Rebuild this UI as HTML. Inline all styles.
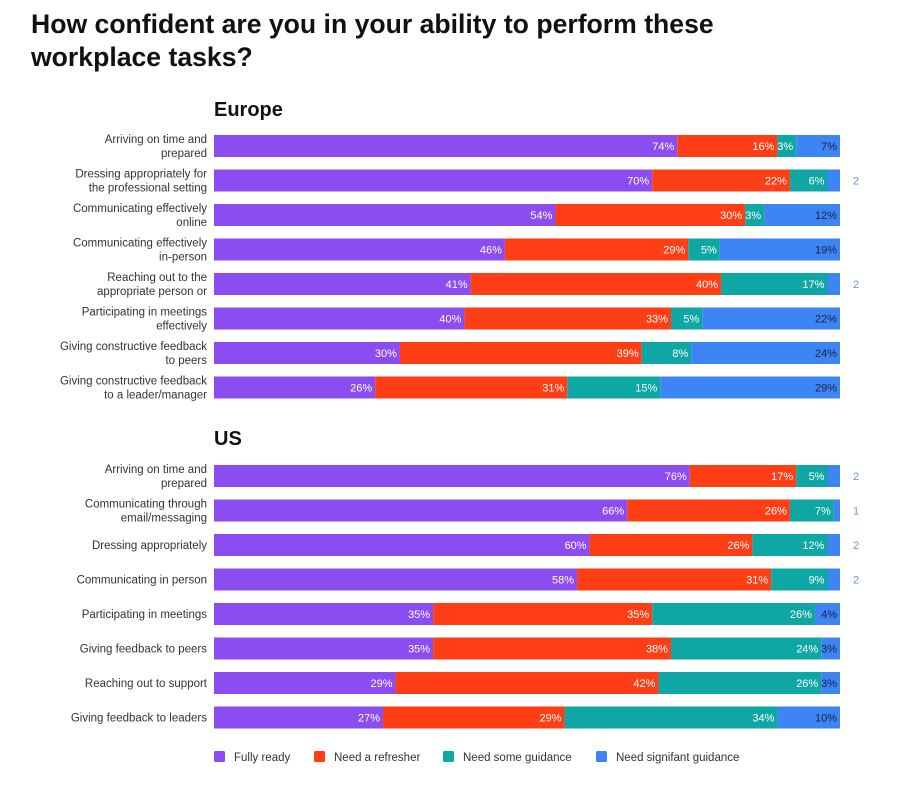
<!DOCTYPE html>
<html><head><meta charset="utf-8"><style>
body{margin:0;background:#fff;font-family:"Liberation Sans",sans-serif;}
#wrap{position:relative;width:909px;height:807px;overflow:hidden;}
h1{position:absolute;left:31px;top:8px;margin:0;font-size:26.6px;line-height:33px;font-weight:bold;color:#111;letter-spacing:0px;}
.sec{position:absolute;left:214px;font-size:20px;font-weight:bold;color:#111;}
</style></head><body>
<div id="wrap">
<h1>How confident are you in your ability to perform these<br>workplace tasks?</h1>
<div class="sec" style="top:99px">Europe</div>
<div class="sec" style="top:428px">US</div>
<svg id="svg" width="909" height="807" style="position:absolute;left:0;top:0"></svg>
</div>
<script>
const euCategories=[["Arriving on time and","prepared"],["Dressing appropriately for","the professional setting"],["Communicating effectively","online"],["Communicating effectively","in-person"],["Reaching out to the","appropriate person or"],["Participating in meetings","effectively"],["Giving constructive feedback","to peers"],["Giving constructive feedback","to a leader/manager"]];
const euFully=[74,70,54,46,41,40,30,26];
const euRefresher=[16,22,30,29,40,33,39,31];
const euSome=[3,6,3,5,17,5,8,15];
const euSignificant=[7,2,12,19,2,22,24,29];
const usCategories=[["Arriving on time and","prepared"],["Communicating through","email/messaging"],["Dressing appropriately"],["Communicating in person"],["Participating in meetings"],["Giving feedback to peers"],["Reaching out to support"],["Giving feedback to leaders"]];
const usFully=[76,66,60,58,35,35,29,27];
const usRefresher=[17,26,26,31,35,38,42,29];
const usSome=[5,7,12,9,26,24,26,34];
const usSignificant=[2,1,2,2,4,3,3,10];
const legendLabels=["Fully ready","Need a refresher","Need some guidance","Need signifant guidance"];
const colors=["#8b4cf0","#ff3e15","#0fa7a3","#3d84f5"];
const NS="http://www.w3.org/2000/svg";
const svg=document.getElementById('svg');
const X0=214,W=626;
function xs(v,tot){return v/tot*W;}
function mk(tag,attrs){const e=document.createElementNS(NS,tag);for(const k in attrs)e.setAttribute(k,attrs[k]);svg.appendChild(e);return e;}
function group(cats,series,y0,prefix){
  cats.forEach((c,i)=>{
    const cy=y0+i*34.5;
    const tot=series.reduce((a,s)=>a+s[i],0);
    const lab=mk('text',{x:207,'text-anchor':'end','font-size':11.5,fill:'#333'});
    
    
    const ys=c.length===2?[cy-3,cy+11]:[cy+4];
    c.forEach((t,j)=>{const ts=document.createElementNS(NS,'tspan');ts.setAttribute('x',207);ts.setAttribute('y',ys[j]);ts.textContent=t;lab.appendChild(ts);});
    let acc=0;
    series.forEach((s,k)=>{
      const v=s[i];const x=X0+xs(acc,tot);const w=xs(v,tot);
      const r=mk('rect',{x:x,y:cy-11,width:w,height:22,fill:colors[k]});
      
      
      acc+=v;
      let t;
      if(v>=3){
        t=mk('text',{x:x+w-3,y:cy+4,'text-anchor':'end','font-size':11,fill:k===3?'#1a2340':'#fff'});
        t.textContent=v+'%';
      }else{
        t=mk('text',{x:856,y:cy+4,'text-anchor':'middle','font-size':11,fill:'#6c8fe6'});
        t.textContent=v;
      }
      
      
    });
  });
}
group(euCategories,[euFully,euRefresher,euSome,euSignificant],146,'europe');
group(usCategories,[usFully,usRefresher,usSome,usSignificant],476,'us');
const lx=[214,314,443,596];
legendLabels.forEach((l,i)=>{
  const r=mk('rect',{x:lx[i],y:751,width:11,height:11,rx:1.5,fill:colors[i]});
  
  
  const t=mk('text',{x:lx[i]+20,y:761,'font-size':11.5,fill:'#333'});
  t.textContent=l;
  
  
});
</script>
</body></html>
